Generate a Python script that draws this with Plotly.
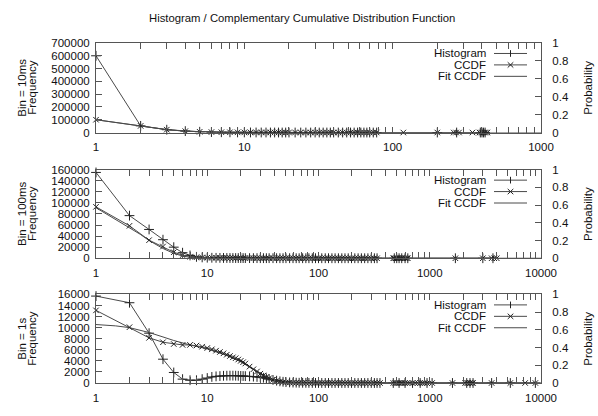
import plotly.graph_objects as go

# ---------------- data ----------------
TITLE = "Histogram / Complementary Cumulative Distribution Function"
PANEL_LABELS = ["Bin = 10ms", "Bin = 100ms", "Bin = 1s"]
X_TICKS_10MS = [1, 10, 100, 1000]
X_TICKS_LONG = [1, 10, 100, 1000, 10000]
Y_MAX = [700000, 160000, 16000]
Y_STEP = [100000, 20000, 2000]

# ---- Bin = 10ms ----
X_10MS = [1, 2, 3, 4, 5, 6, 7, 8, 9, 10, 11, 12, 13, 14, 15, 16, 17, 18, 19, 20,
          22, 24, 26, 28, 30, 32, 34, 36, 38, 40, 43, 46, 49, 52, 55, 58, 61, 64, 67, 70, 74, 78]
HIST_10MS = [600000, 52000, 22000, 11000, 6000, 3500, 2200, 1500, 1000, 800,
             600, 450, 350, 280, 220, 180, 150, 120, 100, 90,
             80, 70, 60, 55, 50, 45, 40, 36, 33, 30, 27, 24, 21, 19, 17, 15, 13, 12, 11, 10, 9, 8]
CCDF_10MS = [0.143, 0.074, 0.032, 0.015, 0.008, 0.005, 0.0035, 0.0026, 0.002, 0.0016,
             0.0013, 0.0011, 0.001, 0.0009, 0.0008, 0.0007, 0.0006, 0.00055, 0.0005, 0.00045,
             0.0004, 0.00036, 0.00032, 0.00029, 0.00026, 0.00023, 0.0002, 0.00018, 0.00016, 0.00014,
             0.00012, 0.0001, 0.00009, 0.00008, 0.00007, 0.00006, 0.00005, 0.00004, 0.00003, 0.00003,
             0.00002, 0.00002]
HIST_TAIL_X_10MS = [200, 270, 390, 400, 410, 420]
HIST_TAIL_10MS = [2, 1, 1, 1, 1, 1]
CCDF_TAIL_X_10MS = [118, 200, 258, 268, 280, 345, 385, 395, 405, 415, 425, 435]
CCDF_TAIL_10MS = [0.00002, 0.00001, 0.00001, 0.00001, 0.00001, 0.00001,
                  0.00001, 0.00001, 0.00001, 0.00001, 0.00001, 0.00001]
FIT_X_10MS = [1, 1.5, 2, 2.5, 3, 4, 5, 6, 7, 8, 10, 15, 20, 50, 100, 1000]
FIT_10MS = [0.143, 0.1, 0.072, 0.048, 0.033, 0.015, 0.007, 0.0035, 0.0018, 0.001,
            0.0003, 0.00005, 0.00001, 0, 0, 0]

# ---- shared dense bins for 100ms and 1s ----
X_DENSE = [1, 2, 3, 4, 5, 6, 7, 8, 9,
           10, 11, 12, 13, 14, 15, 16, 17, 18, 19, 20, 21, 22,
           24, 26, 28, 30, 32, 34, 36, 39, 42, 45, 48, 51, 55, 59, 63, 67, 72, 77, 82, 88, 94,
           100, 107, 115, 123, 132, 141, 151, 162, 173, 185, 198, 212, 227, 243, 260, 278,
           298, 318, 336]

# ---- Bin = 100ms ----
HIST_100MS = [155000, 77000, 52000, 33500, 20000, 10000, 5000, 2500, 1500,
              1000, 850, 720, 620, 540, 480, 430, 390, 350, 320, 290, 265, 240,
              210, 185, 165, 150, 135, 120, 110, 95, 85, 75, 68, 61, 54, 48, 43, 38,
              34, 30, 27, 24, 21, 19, 17, 15, 13, 12, 11, 10, 9, 8, 7, 7, 6, 6, 5, 5, 4, 4, 3, 3]
CCDF_100MS = [0.58, 0.366, 0.204, 0.132, 0.068, 0.035, 0.018, 0.011, 0.008,
              0.0065, 0.0056, 0.0049, 0.0044, 0.004, 0.0036, 0.0033, 0.003, 0.0028, 0.0026,
              0.0024, 0.0022, 0.002,
              0.0018, 0.0016, 0.0015, 0.0014, 0.0013, 0.0012, 0.0011, 0.001, 0.0009, 0.00085,
              0.0008, 0.00075, 0.0007, 0.00065, 0.0006, 0.00055, 0.0005, 0.00046, 0.00042,
              0.00038, 0.00034, 0.0003, 0.00027, 0.00024, 0.00021, 0.00019, 0.00017, 0.00015,
              0.00013, 0.00012, 0.00011, 0.0001, 0.00009, 0.00008, 0.00007, 0.00006, 0.00005,
              0.00004, 0.00003, 0.00002]
HIST_TAIL_X_100MS = [480, 505, 530, 560, 600, 635, 1700, 3000, 3700]
HIST_TAIL_100MS = [2, 1, 1, 1, 1, 1, 1, 1, 1]
CCDF_TAIL_X_100MS = [470, 480, 495, 505, 515, 530, 545, 560, 580, 600, 620, 635,
                     1700, 3000, 3600, 3800, 4000]
CCDF_TAIL_100MS = [0.00002, 0.00002, 0.00002, 0.00001, 0.00001, 0.00001, 0.00001, 0.00001,
                   0.00001, 0.00001, 0.00001, 0.00001, 0.00001, 0.00001, 0.00001, 0.00001, 0.00001]
FIT_X_100MS = [1, 1.5, 2, 2.5, 3, 4, 5, 6, 7, 8, 10, 15, 20, 100, 1000, 10000]
FIT_100MS = [0.57, 0.44, 0.35, 0.27, 0.2, 0.11, 0.055, 0.025, 0.011, 0.005,
             0.0012, 0.0001, 0, 0, 0, 0]

# ---- Bin = 1s ----
HIST_1S = [15700, 14500, 9000, 4300, 1900, 700, 500, 500, 700,
           900, 1100, 1200, 1250, 1300, 1320, 1330, 1330, 1320, 1300, 1280, 1260, 1240,
           1200, 1150, 1100, 1050, 950, 850, 700, 560, 420, 300, 220, 160, 110, 80, 60, 45,
           35, 28, 22, 18, 15, 12, 10, 9, 8, 7, 6, 5, 5, 4, 4, 3, 3, 3, 2, 2, 2, 2, 1, 1]
CCDF_1S = [0.82, 0.63, 0.51, 0.46, 0.44, 0.43, 0.43, 0.423, 0.41,
           0.395, 0.38, 0.365, 0.35, 0.335, 0.32, 0.305, 0.29, 0.28, 0.265, 0.25, 0.235, 0.22,
           0.185, 0.155, 0.13, 0.105, 0.085, 0.068, 0.054, 0.035, 0.024, 0.016, 0.011, 0.007,
           0.005, 0.0035, 0.0025, 0.0018, 0.0014, 0.0011, 0.0009, 0.0008, 0.0007, 0.0006,
           0.00055, 0.0005, 0.00045, 0.0004, 0.00036, 0.00032, 0.00028, 0.00025, 0.00022,
           0.00019, 0.00016, 0.00014, 0.00012, 0.0001, 0.00008, 0.00006, 0.00004, 0.00002]
HIST_TAIL_X_1S = [357, 470, 530, 600, 700, 820, 945, 1050, 1600, 2150, 2300, 2450, 3600, 5300, 8900]
HIST_TAIL_1S = [2, 1, 1, 1, 1, 1, 1, 1, 1, 1, 1, 1, 1, 1, 1]
CCDF_TAIL_X_1S = [357, 470, 490, 510, 530, 550, 570, 600, 630, 660, 700, 740, 780, 820, 860,
                  900, 945, 1050, 1600, 2080, 2150, 2220, 2300, 2380, 2450, 3600, 5300, 7200, 8900]
CCDF_TAIL_1S = [0.00002, 0.00002, 0.00002, 0.00002, 0.00001, 0.00001, 0.00001, 0.00001,
                0.00001, 0.00001, 0.00001, 0.00001, 0.00001, 0.00001, 0.00001, 0.00001,
                0.00001, 0.00001, 0.00001, 0.00001, 0.00001, 0.00001, 0.00001, 0.00001,
                0.00001, 0.00001, 0.00001, 0.00001, 0.00001]
FIT_X_1S = [1, 1.5, 2, 3, 4, 5, 7, 10, 15, 20, 25, 30, 35, 40, 50, 60, 80, 100, 1000, 10000]
FIT_1S = [0.66, 0.645, 0.625, 0.57, 0.52, 0.48, 0.43, 0.385, 0.31, 0.24, 0.165, 0.1,
          0.055, 0.025, 0.006, 0.002, 0.0003, 0, 0, 0]

PANELS = [
    dict(hx=X_10MS + HIST_TAIL_X_10MS, hy=HIST_10MS + HIST_TAIL_10MS,
         cx=X_10MS + CCDF_TAIL_X_10MS, cy=CCDF_10MS + CCDF_TAIL_10MS,
         fx=FIT_X_10MS, fy=FIT_10MS, xt=X_TICKS_10MS),
    dict(hx=X_DENSE + HIST_TAIL_X_100MS, hy=HIST_100MS + HIST_TAIL_100MS,
         cx=X_DENSE + CCDF_TAIL_X_100MS, cy=CCDF_100MS + CCDF_TAIL_100MS,
         fx=FIT_X_100MS, fy=FIT_100MS, xt=X_TICKS_LONG),
    dict(hx=X_DENSE + HIST_TAIL_X_1S, hy=HIST_1S + HIST_TAIL_1S,
         cx=X_DENSE + CCDF_TAIL_X_1S, cy=CCDF_1S + CCDF_TAIL_1S,
         fx=FIT_X_1S, fy=FIT_1S, xt=X_TICKS_LONG),
]

# ---------------- layout geometry ----------------
W, H = 598, 416
ML, MR, MT, MB = 96, 57, 43, 16
PW, PH = W - ML - MR, H - MT - MB
PANEL_PX = [(43, 137), (176, 269), (307, 400)]


def fx_(px):
    return (px - ML) / PW


def fy_(py):
    return 1 - (py - MT) / PH


FONT = "Liberation Sans, Arial, Helvetica, sans-serif"
TXT = "#111111"
AXC = "#555555"
LINEC = "#4a4a4a"
MARKC = "#222222"
FS = 11.5

fig = go.Figure()
layout = dict(
    width=W, height=H, margin=dict(l=ML, r=MR, t=MT, b=MB),
    paper_bgcolor="white", plot_bgcolor="white", showlegend=False,
    font=dict(family=FONT, size=FS, color=TXT),
)
annotations = []
shapes = []

for k, p in enumerate(PANELS):
    xs = "" if k == 0 else str(k + 1)
    yl = "" if k == 0 else str(2 * k + 1)
    yr = str(2 * k + 2)
    xref, ylref, yrref = "x" + xs, "y" + yl, "y" + yr

    fig.add_trace(go.Scatter(x=p["fx"], y=p["fy"], xaxis=xref, yaxis=yrref, mode="lines",
                             line=dict(color=LINEC, width=1), cliponaxis=False, name="Fit CCDF"))
    fig.add_trace(go.Scatter(x=p["cx"], y=p["cy"], xaxis=xref, yaxis=yrref, mode="lines+markers",
                             line=dict(color=LINEC, width=1), cliponaxis=False, name="CCDF",
                             marker=dict(symbol="x-thin", size=5.5, line=dict(color=MARKC, width=1))))
    fig.add_trace(go.Scatter(x=p["hx"], y=p["hy"], xaxis=xref, yaxis=ylref, mode="lines+markers",
                             line=dict(color=LINEC, width=1), cliponaxis=False, name="Histogram",
                             marker=dict(symbol="cross-thin", size=7, line=dict(color=MARKC, width=1))))

    top, bot = PANEL_PX[k]
    dom = [fy_(bot), fy_(top)]
    ndec = len(p["xt"]) - 1
    minor_vals = [m * 10 ** d for d in range(ndec) for m in range(2, 10)]
    layout["xaxis" + xs] = dict(
        type="log", range=[0, ndec], domain=[0, 1], anchor=ylref,
        tickvals=p["xt"], ticktext=[str(v) for v in p["xt"]],
        ticks="inside", ticklen=6, tickcolor=AXC, tickwidth=1,
        minor=dict(tickvals=minor_vals, ticks="inside", ticklen=3, tickcolor=AXC, tickwidth=1),
        showline=True, linecolor=AXC, linewidth=1, mirror="allticks",
        showgrid=False, zeroline=False, ticklabelstandoff=4,
        tickfont=dict(family=FONT, size=FS, color=TXT),
    )
    ymax, ystep = Y_MAX[k], Y_STEP[k]
    yv = list(range(0, ymax + 1, ystep))
    layout["yaxis" + yl] = dict(
        range=[0, ymax], domain=dom, anchor=xref,
        tickvals=yv, ticktext=[str(v) for v in yv],
        ticks="inside", ticklen=6, tickcolor=AXC,
        showline=True, linecolor=AXC, linewidth=1, mirror=True,
        showgrid=False, zeroline=False, ticklabelstandoff=3,
        tickfont=dict(family=FONT, size=FS, color=TXT),
    )
    pv = [0, 0.2, 0.4, 0.6, 0.8, 1]
    layout["yaxis" + yr] = dict(
        range=[0, 1], overlaying=ylref, side="right", anchor=xref,
        tickvals=pv, ticktext=["0", "0.2", "0.4", "0.6", "0.8", "1"],
        ticks="inside", ticklen=6, tickcolor=AXC,
        showline=True, linecolor=AXC, linewidth=1,
        showgrid=False, zeroline=False, ticklabelstandoff=8,
        tickfont=dict(family=FONT, size=FS, color=TXT),
    )

    mid = (top + bot) / 2
    annotations.append(dict(text=PANEL_LABELS[k], x=-(ML - 22) / PW, y=fy_(mid), xref="paper", yref="paper",
                            textangle=-90, showarrow=False, xanchor="center", yanchor="middle",
                            font=dict(family=FONT, size=FS, color=TXT)))
    annotations.append(dict(text="Frequency", x=-(ML - 32) / PW, y=fy_(mid), xref="paper", yref="paper",
                            textangle=-90, showarrow=False, xanchor="center", yanchor="middle",
                            font=dict(family=FONT, size=FS, color=TXT)))
    annotations.append(dict(text="Probability", x=fx_(588), y=fy_(mid), xref="paper", yref="paper",
                            textangle=-90, showarrow=False, xanchor="center", yanchor="middle",
                            font=dict(family=FONT, size=FS, color=TXT)))

    # gnuplot-style key: text right-aligned, sample to its right
    for j, (name, mk) in enumerate([("Histogram", "+"), ("CCDF", "x"), ("Fit CCDF", None)]):
        ry = top + 11 + j * 12
        annotations.append(dict(text=name, x=fx_(487), y=fy_(ry), xref="paper", yref="paper",
                                showarrow=False, xanchor="right", yanchor="middle", borderpad=0,
                                font=dict(family=FONT, size=FS, color=TXT)))
        shapes.append(dict(type="line", xref="paper", yref="paper", x0=fx_(494), x1=fx_(527),
                           y0=fy_(ry), y1=fy_(ry), line=dict(color=LINEC, width=1)))
        cxp = 510.5
        if mk == "+":
            shapes.append(dict(type="line", xref="paper", yref="paper", x0=fx_(cxp), x1=fx_(cxp),
                               y0=fy_(ry - 3.5), y1=fy_(ry + 3.5), line=dict(color=MARKC, width=1)))
        elif mk == "x":
            shapes.append(dict(type="line", xref="paper", yref="paper", x0=fx_(cxp - 2.8), x1=fx_(cxp + 2.8),
                               y0=fy_(ry - 2.8), y1=fy_(ry + 2.8), line=dict(color=MARKC, width=1)))
            shapes.append(dict(type="line", xref="paper", yref="paper", x0=fx_(cxp - 2.8), x1=fx_(cxp + 2.8),
                               y0=fy_(ry + 2.8), y1=fy_(ry - 2.8), line=dict(color=MARKC, width=1)))

annotations.append(dict(text=TITLE, x=fx_(302), y=fy_(17), xref="paper", yref="paper",
                        showarrow=False, xanchor="center", yanchor="middle",
                        font=dict(family=FONT, size=11.3, color=TXT)))

layout["annotations"] = annotations
layout["shapes"] = shapes
fig.update_layout(**layout)
fig.write_html("out.html")
